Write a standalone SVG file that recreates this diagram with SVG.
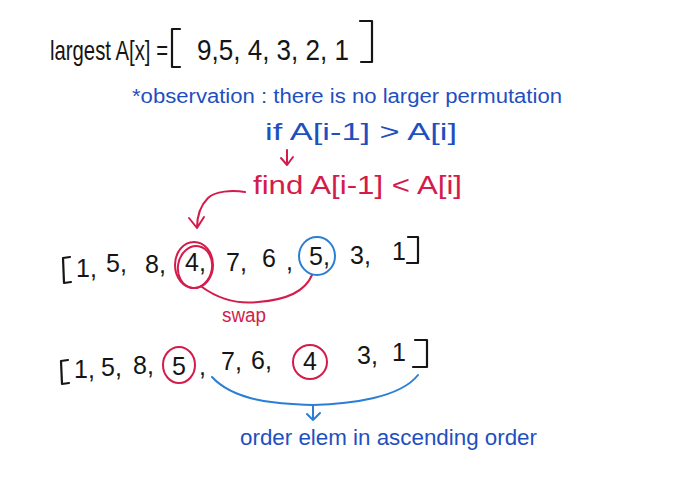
<svg xmlns="http://www.w3.org/2000/svg" width="700" height="481" viewBox="0 0 700 481">
<style>
.k{font-family:"Liberation Sans","DejaVu Sans",sans-serif;fill:#151515}
.b{font-family:"Liberation Sans","DejaVu Sans",sans-serif;fill:#1f4fbf}
.r{font-family:"Liberation Sans","DejaVu Sans",sans-serif;fill:#d41c4c}
.n{font-size:25px}
.rs{fill:none;stroke:#d41c4c;stroke-width:2;stroke-linecap:round;stroke-linejoin:round}
.bs{fill:none;stroke:#2a7fd4;stroke-width:2;stroke-linecap:round;stroke-linejoin:round}
.ks{fill:none;stroke:#151515;stroke-width:2.2;stroke-linecap:round;stroke-linejoin:round}
</style>
<rect width="700" height="481" fill="#ffffff"/>
<g id="title">
<text class="k" x="50" y="60" font-size="28" textLength="118" lengthAdjust="spacingAndGlyphs">largest A[x] =</text>
<path class="ks" d="M180 29 L172 29 L172 67 L180 67"/>
<text class="k" x="197" y="60" font-size="30" textLength="152" lengthAdjust="spacingAndGlyphs">9,5, 4, 3, 2, 1</text>
<path class="ks" d="M360 21 L372 21 L372 62 L361 62"/>
</g>
<g id="observation">
<text class="b" x="132" y="103" font-size="20" textLength="430" lengthAdjust="spacingAndGlyphs">*observation : there is no larger permutation</text>
<text class="b" x="265" y="140" font-size="24" textLength="192" lengthAdjust="spacingAndGlyphs">if A[i-1] &gt; A[i]</text>
</g>
<g id="find">
<text class="r" x="253" y="194" font-size="26" textLength="209" lengthAdjust="spacingAndGlyphs">find A[i-1] &lt; A[i]</text>
</g>
<g id="connectors">
<path class="rs" d="M287 150 L287 165 M281 158 L287 165 L293 157"/>
<path class="rs" d="M245 192 C232 190 215 191 208 198 C200 206 197 216 197 228 M189 218 L197 228 L204 217"/>
<path class="rs" d="M202 287 C220 300 240 304 258 302 C285 300 305 292 312 275"/>
<path class="bs" d="M212 377 C235 402 280 404 313 405 C350 404 400 398 418 375"/>
<path class="bs" d="M313 405 L313 420 M307 414 L313 420 L320 413"/>
</g>
<g id="row1">
<path class="ks" d="M70 257 L63 258 L64 283 L71 282"/>
<text class="k n" x="76" y="277">1,</text>
<text class="k n" x="106" y="272">5,</text>
<text class="k n" x="145" y="273">8,</text>
<text class="k n" x="185" y="271">4,</text>
<text class="k n" x="226" y="271">7,</text>
<text class="k n" x="262" y="267">6</text>
<text class="k n" x="286" y="270">,</text>
<text class="k n" x="309" y="265">5,</text>
<text class="k n" x="350" y="264">3,</text>
<text class="k n" x="392" y="260">1</text>
<path class="ks" d="M408 237 L418 237 L418 263 L407 263"/>
<ellipse class="rs" cx="194" cy="265" rx="19" ry="23"/>
<ellipse class="rs" cx="195" cy="267" rx="17" ry="21" transform="rotate(10 195 267)"/>
<ellipse class="bs" cx="317" cy="256" rx="18" ry="19"/>
<text class="r" x="222" y="322" font-size="20" textLength="44" lengthAdjust="spacingAndGlyphs">swap</text>
</g>
<g id="row2">
<path class="ks" d="M68 360 L61 361 L62 384 L69 383"/>
<text class="k n" x="74" y="378">1,</text>
<text class="k n" x="101" y="376">5,</text>
<text class="k n" x="133" y="374">8,</text>
<text class="k n" x="172" y="375">5</text>
<text class="k n" x="199" y="375">,</text>
<text class="k n" x="221" y="370">7,</text>
<text class="k n" x="251" y="369">6,</text>
<text class="k n" x="303" y="370">4</text>
<text class="k n" x="357" y="364">3,</text>
<text class="k n" x="392" y="361">1</text>
<path class="ks" d="M415 340 L427 340 L427 367 L413 367"/>
<ellipse class="rs" cx="179" cy="365" rx="16" ry="18"/>
<ellipse class="rs" cx="310" cy="362" rx="17" ry="17"/>
</g>
<g id="ascending">
<text class="b" x="240" y="445" font-size="22" textLength="297" lengthAdjust="spacingAndGlyphs">order elem in ascending order</text>
</g>
</svg>
